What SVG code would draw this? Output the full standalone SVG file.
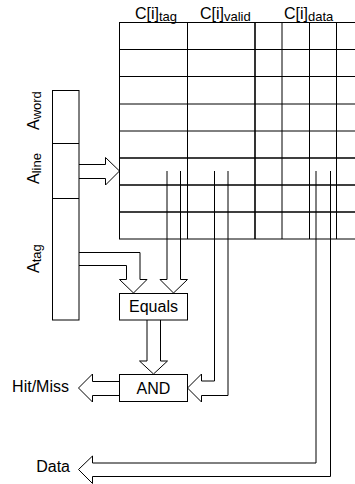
<svg xmlns="http://www.w3.org/2000/svg" width="355" height="484" viewBox="0 0 355 484">
<style>
  text { font-family: "Liberation Sans", Arial, sans-serif; font-size: 16px; fill: #000; }
  .sub { font-size: 13px; }
  .ln { stroke: #000; stroke-width: 1; fill: none; }
  .thk { stroke: #000; stroke-width: 1.6; fill: none; }
  .box { stroke: #000; stroke-width: 1; fill: #fff; }
  .arr { stroke: #000; stroke-width: 1; fill: none; stroke-linejoin: miter; }
</style>
<rect width="355" height="484" fill="#fff"/>

<g id="cache">
  <text x="135" y="19">C[i]<tspan class="sub" dy="2">tag</tspan></text>
  <text x="200" y="19">C[i]<tspan class="sub" dy="2">valid</tspan></text>
  <text x="284" y="19">C[i]<tspan class="sub" dy="2">data</tspan></text>
  <path class="ln" d="M119.5,22 V239 M187.5,22 V239 M282,22 V239 M309.5,22 V239 M336.5,22 V239"/>
  <path class="thk" d="M255,22 V239"/>
  <path class="ln" d="M119,22.5 H355 M119,49.5 H355 M119,76.5 H355 M119,104 H355 M119,131 H355 M119,239 H355"/>
  <path class="thk" d="M119,158 H355 M119,185 H355 M119,212 H355"/>
</g>

<g id="address">
  <rect class="box" x="52.5" y="90.5" width="26.5" height="229.5"/>
  <path class="ln" d="M52.5,143.5 H79 M52.5,198.5 H79"/>
  <text transform="translate(39,130) rotate(-90)">A<tspan class="sub" dy="2">word</tspan></text>
  <text transform="translate(39,184) rotate(-90)">A<tspan class="sub" dy="2">line</tspan></text>
  <text transform="translate(39,273) rotate(-90)">A<tspan class="sub" dy="2">tag</tspan></text>
</g>

<g id="equals">
  <rect class="box" x="119.5" y="293.5" width="68" height="26.5"/>
  <text x="153.5" y="312" text-anchor="middle">Equals</text>
</g>

<g id="and">
  <rect class="box" x="119.5" y="374.5" width="68" height="27"/>
  <text x="153.5" y="394" text-anchor="middle">AND</text>
</g>

<g id="hitmiss">
  <text x="69" y="392" text-anchor="end">Hit/Miss</text>
</g>

<g id="data">
  <text x="70" y="472" text-anchor="end">Data</text>
</g>

<g id="connectors">
  <path class="arr" d="M79,164.5 H105.5 V157.5 L119.5,171 L105.5,185 V178.5 H79"/>
  <path class="arr" d="M79,252.5 H140 V279.5 H147 L133.5,293 L119.5,279.5 H126.5 V265.5 H79"/>
  <path class="arr" d="M167,171 V279.5 H160 L173.5,293 L187.5,279.5 H180.5 V171"/>
  <path class="arr" d="M147,320 V361 H139.5 L153.5,374 L167.5,361 H160.5 V320"/>
  <path class="arr" d="M214.5,171 V381 H201.5 V374 L187.5,388 L201.5,402 V395.5 H228 V171"/>
  <path class="arr" d="M119.5,381.5 H92.5 V374 L78.5,388 L92.5,402 V395.5 H119.5"/>
  <path class="arr" d="M316,171 V463 H92.5 V456 L78.5,469.5 L92.5,483.5 V476.5 H330.5 V171"/>
</g>
</svg>
